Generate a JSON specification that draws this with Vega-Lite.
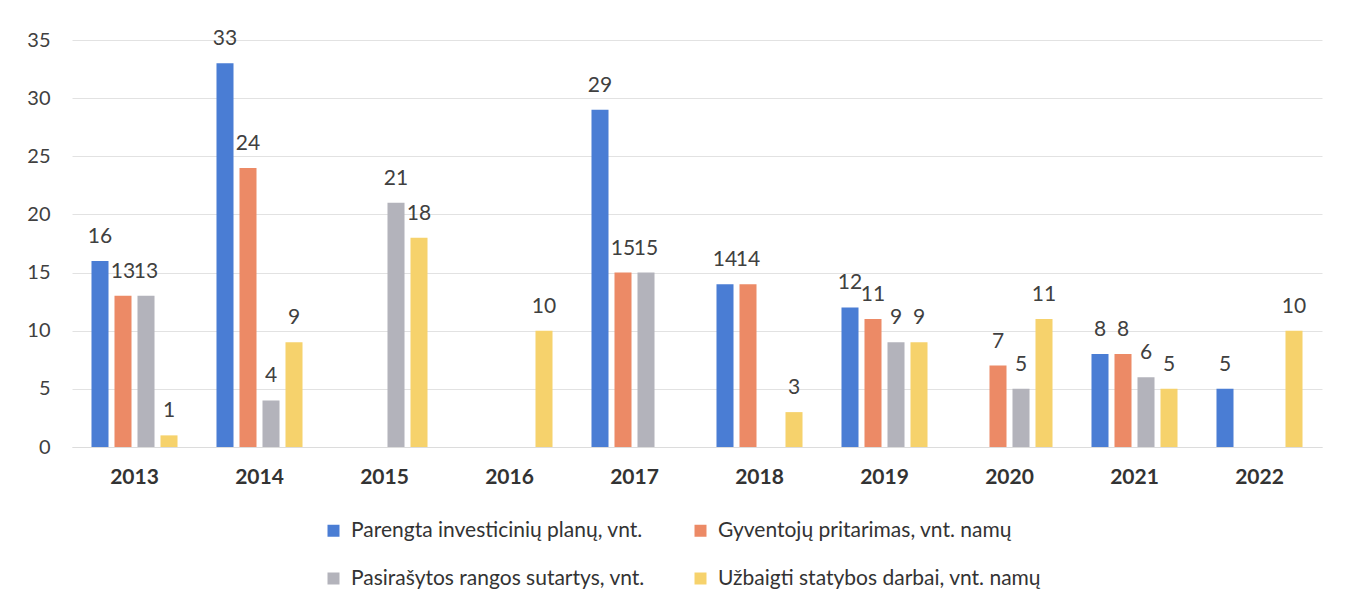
{
  "$schema": "https://vega.github.io/schema/vega-lite/v6.json",
  "width": 1250,
  "height": 407,
  "autosize": "none",
  "padding": {"left": 72, "top": 40, "right": 40, "bottom": 155},
  "config": {"font": "Lato", "view": {"stroke": null}},
  "data": {
    "values": [
      {"year": "2013", "series": "Parengta investicinių planų, vnt.", "value": 16},
      {"year": "2013", "series": "Gyventojų pritarimas, vnt. namų", "value": 13},
      {"year": "2013", "series": "Pasirašytos rangos sutartys, vnt.", "value": 13},
      {"year": "2013", "series": "Užbaigti statybos darbai, vnt. namų", "value": 1},
      {"year": "2014", "series": "Parengta investicinių planų, vnt.", "value": 33},
      {"year": "2014", "series": "Gyventojų pritarimas, vnt. namų", "value": 24},
      {"year": "2014", "series": "Pasirašytos rangos sutartys, vnt.", "value": 4},
      {"year": "2014", "series": "Užbaigti statybos darbai, vnt. namų", "value": 9},
      {"year": "2015", "series": "Pasirašytos rangos sutartys, vnt.", "value": 21},
      {"year": "2015", "series": "Užbaigti statybos darbai, vnt. namų", "value": 18},
      {"year": "2016", "series": "Užbaigti statybos darbai, vnt. namų", "value": 10},
      {"year": "2017", "series": "Parengta investicinių planų, vnt.", "value": 29},
      {"year": "2017", "series": "Gyventojų pritarimas, vnt. namų", "value": 15},
      {"year": "2017", "series": "Pasirašytos rangos sutartys, vnt.", "value": 15},
      {"year": "2018", "series": "Parengta investicinių planų, vnt.", "value": 14},
      {"year": "2018", "series": "Gyventojų pritarimas, vnt. namų", "value": 14},
      {"year": "2018", "series": "Užbaigti statybos darbai, vnt. namų", "value": 3},
      {"year": "2019", "series": "Parengta investicinių planų, vnt.", "value": 12},
      {"year": "2019", "series": "Gyventojų pritarimas, vnt. namų", "value": 11},
      {"year": "2019", "series": "Pasirašytos rangos sutartys, vnt.", "value": 9},
      {"year": "2019", "series": "Užbaigti statybos darbai, vnt. namų", "value": 9},
      {"year": "2020", "series": "Gyventojų pritarimas, vnt. namų", "value": 7},
      {"year": "2020", "series": "Pasirašytos rangos sutartys, vnt.", "value": 5},
      {"year": "2020", "series": "Užbaigti statybos darbai, vnt. namų", "value": 11},
      {"year": "2021", "series": "Parengta investicinių planų, vnt.", "value": 8},
      {"year": "2021", "series": "Gyventojų pritarimas, vnt. namų", "value": 8},
      {"year": "2021", "series": "Pasirašytos rangos sutartys, vnt.", "value": 6},
      {"year": "2021", "series": "Užbaigti statybos darbai, vnt. namų", "value": 5},
      {"year": "2022", "series": "Parengta investicinių planų, vnt.", "value": 5},
      {"year": "2022", "series": "Užbaigti statybos darbai, vnt. namų", "value": 10}
    ]
  },
  "encoding": {
    "x": {
      "field": "year",
      "type": "nominal",
      "title": null,
      "scale": {"domain": ["2013","2014","2015","2016","2017","2018","2019","2020","2021","2022"], "paddingInner": 0.264, "paddingOuter": 0.132},
      "axis": {
        "labelAngle": 0,
        "labelFontSize": 21,
        "labelFontWeight": "bold",
        "labelColor": "#333333",
        "labelPadding": 19,
        "ticks": false,
        "domainColor": "#dcdcdc",
        "domainWidth": 1
      }
    },
    "xOffset": {
      "field": "series",
      "type": "nominal",
      "scale": {
        "domain": ["Parengta investicinių planų, vnt.", "Gyventojų pritarimas, vnt. namų", "Pasirašytos rangos sutartys, vnt.", "Užbaigti statybos darbai, vnt. namų"],
        "paddingInner": 0.26,
        "paddingOuter": 0.13
      }
    },
    "y": {
      "field": "value",
      "type": "quantitative",
      "title": null,
      "scale": {"domain": [0, 35]},
      "axis": {
        "values": [0, 5, 10, 15, 20, 25, 30, 35],
        "domain": false,
        "ticks": false,
        "labelFontSize": 20,
        "labelColor": "#404040",
        "labelPadding": 22,
        "gridColor": "#e2e2e2",
        "gridWidth": 1
      }
    }
  },
  "layer": [
    {
      "mark": {"type": "bar"},
      "encoding": {
        "color": {
          "field": "series",
          "type": "nominal",
          "scale": {
            "domain": ["Parengta investicinių planų, vnt.", "Gyventojų pritarimas, vnt. namų", "Pasirašytos rangos sutartys, vnt.", "Užbaigti statybos darbai, vnt. namų"],
            "range": ["#4a7dd4", "#ec8a66", "#b3b3bb", "#f6d26c"]
          },
          "legend": {
            "title": null,
            "orient": "none",
            "legendX": 251,
            "legendY": 480,
            "direction": "horizontal",
            "columns": 2,
            "symbolType": "square",
            "symbolSize": 144,
            "symbolStrokeWidth": 0,
            "labelFontSize": 21,
            "labelColor": "#333333",
            "labelOffset": 7,
            "rowPadding": 26,
            "columnPadding": 45,
            "labelLimit": 500
          }
        }
      }
    },
    {
      "mark": {"type": "text", "baseline": "middle", "dy": -24, "fontSize": 21, "color": "#404040"},
      "encoding": {"text": {"field": "value", "type": "quantitative"}}
    }
  ]
}
